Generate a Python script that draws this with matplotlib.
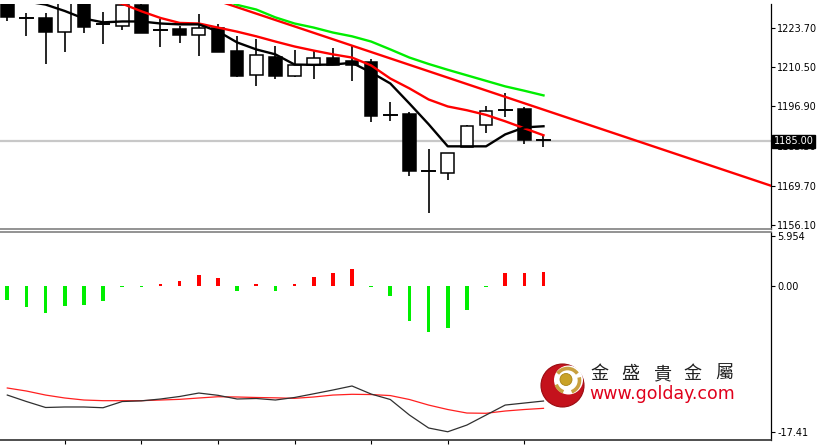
import matplotlib
matplotlib.use("Agg")
import matplotlib.pyplot as plt
from matplotlib.patches import Rectangle, Circle, Arc
import numpy as np

# ---------------- data ----------------
opens  = [1233.5, 1227.4, 1227.4, 1222.6, 1232.0, 1225.3, 1224.5, 1231.6, 1223.1, 1223.4,
          1221.4, 1223.9, 1215.9, 1207.6, 1213.9, 1207.3, 1211.1, 1213.6, 1212.5, 1212.1,
          1193.8, 1194.2, 1174.7, 1173.9, 1183.1, 1190.5, 1195.7, 1195.9, 1185.3]
highs  = [1234.5, 1229.1, 1229.1, 1234.0, 1234.0, 1229.3, 1234.0, 1234.0, 1226.8, 1224.5,
          1228.5, 1225.1, 1221.1, 1220.2, 1217.6, 1216.3, 1215.9, 1217.1, 1217.6, 1213.1,
          1198.4, 1195.0, 1182.2, 1180.8, 1190.7, 1197.0, 1201.6, 1196.7, 1187.0]
lows   = [1226.1, 1221.1, 1211.6, 1215.5, 1222.2, 1218.2, 1223.1, 1222.0, 1217.3, 1218.8,
          1214.2, 1215.7, 1207.1, 1204.1, 1206.2, 1207.1, 1206.2, 1211.1, 1205.6, 1191.5,
          1191.9, 1173.0, 1160.2, 1171.6, 1183.1, 1187.9, 1193.4, 1183.9, 1183.1]
closes = [1227.5, 1227.3, 1222.6, 1233.0, 1224.3, 1224.9, 1231.6, 1222.2, 1222.7, 1221.4,
          1223.9, 1215.7, 1207.3, 1214.5, 1207.3, 1211.1, 1213.6, 1211.1, 1211.3, 1193.6,
          1193.7, 1174.7, 1174.6, 1180.8, 1190.2, 1195.3, 1195.6, 1185.4, 1185.0]

ma_black = [1235.0, 1233.0, 1231.9, 1229.7, 1227.1, 1225.8, 1226.1, 1226.1, 1225.4, 1225.1,
            1225.1, 1222.7, 1218.9, 1216.5, 1214.8, 1211.3, 1211.2, 1211.3, 1211.9, 1208.6,
            1204.8, 1197.9, 1190.8, 1183.2, 1183.2, 1183.2, 1187.3, 1189.7, 1190.1]
ma_red = [None, None, None, None, 1236.0, 1233.6, 1232.2, 1229.6, 1227.3, 1225.6,
          1225.4, 1224.0, 1222.6, 1221.0, 1219.2, 1217.5, 1216.1, 1214.8, 1213.7, 1211.0,
          1206.5, 1203.1, 1199.3, 1196.9, 1195.6, 1194.0, 1191.8, 1189.4, 1187.0]
ma_green = [None, None, None, None, None, None, None, None, None, None,
            None, 1234.5, 1231.8, 1230.2, 1227.5, 1225.4, 1224.0, 1222.3, 1221.0, 1219.2,
            1216.5, 1213.7, 1211.5, 1209.5, 1207.6, 1205.7, 1203.8, 1202.3, 1200.7]

trend_x = [11.0, 40.0]
trend_y = [1233.2, 1169.4]

last_price = 1185.00
price_ticks = [1223.70, 1210.50, 1196.90, 1183.30, 1169.70, 1156.10]

hist = [-1.67, -2.54, -3.25, -2.38, -2.26, -1.75, -0.15, -0.15, 0.27, 0.60,
        1.31, 0.92, -0.56, 0.20, -0.60, 0.20, 1.04, 1.58, 2.02, -0.15,
        -1.15, -4.13, -5.51, -4.96, -2.86, -0.15, 1.51, 1.51, 1.70]
osc_black = [-12.98, -13.75, -14.46, -14.40, -14.40, -14.49, -13.75, -13.67, -13.45, -13.15,
             -12.74, -13.01, -13.45, -13.39, -13.57, -13.27, -12.83, -12.38, -11.90, -12.86,
             -13.51, -15.36, -16.90, -17.35, -16.55, -15.36, -14.17, -13.93, -13.69]
osc_red = [-12.14, -12.50, -12.98, -13.33, -13.57, -13.65, -13.65, -13.65, -13.57, -13.49,
           -13.33, -13.18, -13.21, -13.27, -13.31, -13.37, -13.21, -12.98, -12.89, -12.92,
           -13.04, -13.51, -14.17, -14.70, -15.12, -15.15, -14.88, -14.70, -14.56]
sub_ticks = [5.954, 0.0, -17.41]
sub_tick_labels = ["5.954", "0.00", "-17.41"]

brand_cn = "金 盛 貴 金 屬"
brand_url = "www.golday.com"

# ---------------- figure ----------------
W, H = 819, 446
fig = plt.figure(figsize=(W / 100, H / 100), dpi=100)
fig.patch.set_facecolor("white")
plt.rcParams['font.family'] = ['DejaVu Sans']

def px_axes(x0, y0, x1, y1):
    return fig.add_axes([x0 / W, 1 - y1 / H, (x1 - x0) / W, (y1 - y0) / H])

ax1 = px_axes(0, 4, 771, 229)
ax2 = px_axes(0, 232, 771, 440)

xlim = (-0.381, 39.88)
n = len(opens)
xs = np.arange(n)

# ---- main panel ----
ax1.set_xlim(*xlim)
ax1.set_ylim(1154.8, 1232.1)
ax1.axhline(last_price, color="#c8c8c8", lw=1.6, zorder=1)

bw = 0.66
for i in range(n):
    o, h, l, c = opens[i], highs[i], lows[i], closes[i]
    ax1.plot([i, i], [l, h], color="black", lw=1.2, zorder=2, solid_capstyle="butt")
    lo, hi = min(o, c), max(o, c)
    if hi - lo < 0.6:
        ax1.plot([i - bw / 2, i + bw / 2], [o, o], color="black", lw=1.4, zorder=3)
    else:
        face = "black" if c < o else "white"
        ax1.add_patch(Rectangle((i - bw / 2, lo), bw, hi - lo, facecolor=face,
                                edgecolor="black", lw=1.1, zorder=3))

def series(vals):
    x = [i for i, v in enumerate(vals) if v is not None]
    y = [v for v in vals if v is not None]
    return x, y

ax1.plot(trend_x, trend_y, color="#ff0000", lw=1.7, zorder=4)
gx, gy = series(ma_green)
ax1.plot(gx, gy, color="#00ee00", lw=1.7, zorder=4)
rx, ry = series(ma_red)
ax1.plot(rx, ry, color="#ff0000", lw=1.7, zorder=4)
bx, by = series(ma_black)
ax1.plot(bx, by, color="black", lw=1.7, zorder=5)

for s in ["top", "left"]:
    ax1.spines[s].set_visible(False)
ax1.spines["bottom"].set_color("#808080")
ax1.spines["bottom"].set_linewidth(1.2)
ax1.spines["right"].set_color("black")
ax1.spines["right"].set_linewidth(0.9)
ax1.yaxis.tick_right()
ax1.set_yticks(price_ticks)
ax1.set_yticklabels([f"{v:.2f}" for v in price_ticks])
ax1.tick_params(axis="y", direction="out", length=3, width=0.8, pad=1.5,
                labelsize=7, colors="black")
ax1.set_xticks([])
ax1.text(1.0035, last_price, f"{last_price:.2f}", transform=ax1.get_yaxis_transform(),
         ha="left", va="center", fontsize=7, color="white", zorder=10,
         bbox=dict(boxstyle="square,pad=0.15", facecolor="black", edgecolor="black"),
         clip_on=False)

# ---- sub panel ----
ax2.set_xlim(*xlim)
ax2.set_ylim(-18.33, 6.43)
hcolors = ["#ff0000" if v > 0 else "#00ee00" for v in hist]
ax2.bar(xs, hist, width=0.19, color=hcolors, zorder=2)
ax2.plot(xs, osc_red, color="#ff2020", lw=0.9, zorder=3)
ax2.plot(xs, osc_black, color="#303030", lw=0.9, zorder=4)
ax2.spines["left"].set_visible(False)
ax2.spines["top"].set_color("#808080")
ax2.spines["top"].set_linewidth(1.2)
ax2.spines["right"].set_color("black")
ax2.spines["right"].set_linewidth(0.9)
ax2.spines["bottom"].set_color("#303030")
ax2.spines["bottom"].set_linewidth(1.2)
ax2.yaxis.tick_right()
ax2.set_yticks(sub_ticks)
ax2.set_yticklabels(sub_tick_labels)
ax2.tick_params(axis="y", direction="out", length=3, width=0.8, pad=1.5,
                labelsize=7, colors="black")
ax2.set_xticks(xs[3::4])
ax2.set_xticklabels([])
ax2.tick_params(axis="x", direction="out", length=3, width=0.8)

# ---- logo overlay ----
axl = fig.add_axes([0, 0, 1, 1], zorder=20)
axl.set_xlim(0, W)
axl.set_ylim(H, 0)
axl.axis("off")
axl.patch.set_alpha(0)
axl.add_patch(Circle((562.5, 385.5), 21.5, facecolor="#c4121c", edgecolor="#9a0a10", lw=0.8))
axl.add_patch(Circle((568.5, 380.0), 14.5, facecolor="white", edgecolor="none"))
for t1, t2 in [(35, 145), (-70, 15), (200, 250)]:
    axl.add_patch(Arc((567.5, 380.5), 24, 24, theta1=-t2, theta2=-t1,
                      color="#c8a040", lw=2.6))
axl.add_patch(Circle((566.0, 379.5), 6.0, facecolor="#c9a227", edgecolor="#a88418", lw=0.6))
for k, ch in enumerate(brand_cn.split()):
    axl.text(590 + 31.3 * k, 374, ch, fontsize=13, color="#222222", va="center",
             ha="left", family=["Noto Sans CJK TC", "DejaVu Sans"])
axl.text(589, 394, brand_url, fontsize=12.5, color="#e0001b", va="center", ha="left",
         family=["DejaVu Sans"])

fig.savefig("out.png", dpi=100, facecolor="white")
